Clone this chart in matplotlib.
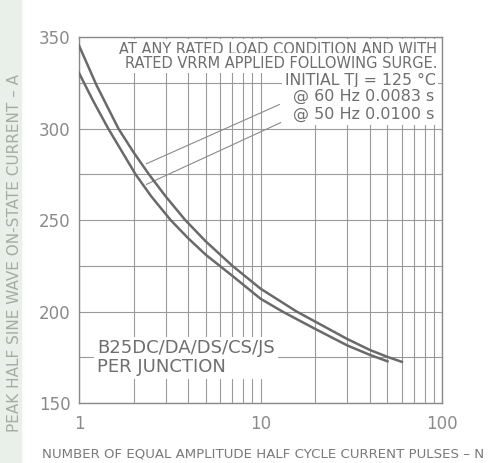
import matplotlib
matplotlib.use("Agg")
import matplotlib.pyplot as plt
from matplotlib.ticker import FixedLocator, NullFormatter
from matplotlib.patches import Rectangle

plt.rcParams['font.family'] = ['DejaVu Sans']

# curve data (number of pulses vs peak current)
pulses_60hz = [1, 1.25, 1.65, 2, 2.43, 3, 3.85, 5, 7, 10, 15.8, 20, 30, 40, 50, 60]
current_60hz = [345.5, 323.7, 300, 287, 275, 263, 250, 238.3, 225, 212.5, 200, 194.5, 185, 179, 175.2, 172.5]

pulses_50hz = [1, 1.2, 1.45, 2.05, 2.5, 3.2, 4, 5, 7, 10, 13.2, 20, 30, 40, 50]
current_50hz = [330.5, 315, 300, 275, 263, 250, 240, 231, 219.5, 207, 200, 190.5, 181.5, 176.3, 172.8]

y_ticks = [150, 200, 250, 300, 350]
y_minor = [175, 225, 275, 325]
x_ticks = [1, 10, 100]
x_tick_labels = ['1', '10', '100']
x_minor = [2, 3, 4, 5, 6, 7, 8, 9, 20, 30, 40, 50, 60, 70, 80, 90]

# leader lines: (curve point, text point)
leader_60 = ((2.35, 280.8), (12.7, 313.2))
leader_50 = ((2.35, 269.5), (12.9, 303.3))

grid_col = '#9a9a9a'
curve_col = '#6a6a6a'
text_col = '#6e6e6e'

fig = plt.figure(figsize=(5.03, 4.63), dpi=100)
fig.patches.append(Rectangle((0, 0), 0.042, 1, transform=fig.transFigure,
                             color='#e9f0e9', zorder=0))
ax = fig.add_axes([0.157, 0.1296, 0.722, 0.790])

ax.set_xscale('log')
ax.set_xlim(1, 100)
ax.set_ylim(150, 350)

ax.xaxis.set_major_locator(FixedLocator(x_ticks))
ax.xaxis.set_minor_locator(FixedLocator(x_minor))
ax.xaxis.set_minor_formatter(NullFormatter())
ax.set_xticks(x_ticks, x_tick_labels)
ax.yaxis.set_major_locator(FixedLocator(y_ticks))
ax.yaxis.set_minor_locator(FixedLocator(y_minor))

ax.tick_params(which='both', length=0)
ax.tick_params(axis='x', pad=9, labelsize=12, labelcolor='#8a8a8a')
ax.tick_params(axis='y', pad=6, labelsize=12, labelcolor='#8a8a8a')

ax.grid(which='both', color=grid_col, linewidth=0.8)
ax.set_axisbelow(True)
for sp in ax.spines.values():
    sp.set_color('#8a8a8a')
    sp.set_linewidth(1)

ax.plot(pulses_60hz, current_60hz, color=curve_col, lw=1.8, zorder=4)
ax.plot(pulses_50hz, current_50hz, color=curve_col, lw=1.8, zorder=4)

# leader lines to the curves
for (p0, p1) in [leader_60, leader_50]:
    ax.plot([p0[0], p1[0]], [p0[1], p1[1]], color='#8a8a8a', lw=0.8, zorder=2)

box = dict(facecolor='white', edgecolor='none', pad=2)

ax.text(0.986, 0.967, 'AT ANY RATED LOAD CONDITION AND WITH', transform=ax.transAxes,
        ha='right', va='center', fontsize=10.5, color=text_col, bbox=box, zorder=3)
ax.text(0.986, 0.929, 'RATED VRRM APPLIED FOLLOWING SURGE.', transform=ax.transAxes,
        ha='right', va='center', fontsize=10.5, color=text_col, bbox=box, zorder=3)
ax.text(0.982, 0.883, 'INITIAL TJ = 125 °C', transform=ax.transAxes,
        ha='right', va='center', fontsize=11.3, color=text_col, bbox=box, zorder=3)
ax.text(0.978, 0.837, '@ 60 Hz 0.0083 s', transform=ax.transAxes,
        ha='right', va='center', fontsize=11.5, color=text_col, bbox=box, zorder=3)
ax.text(0.978, 0.788, '@ 50 Hz 0.0100 s', transform=ax.transAxes,
        ha='right', va='center', fontsize=11.5, color=text_col, bbox=box, zorder=3)

ax.text(0.05, 0.124, 'B25DC/DA/DS/CS/JS\nPER JUNCTION', transform=ax.transAxes,
        ha='left', va='center', fontsize=13, color=text_col, linespacing=1.05,
        bbox=box, zorder=3)

fig.text(0.084, 1 - 454 / 463, 'NUMBER OF EQUAL AMPLITUDE HALF CYCLE CURRENT PULSES – N',
         ha='left', va='center', fontsize=9.6, color='#7a7a7a')
fig.text(0.028, 1 - 432 / 463, 'PEAK HALF SINE WAVE ON-STATE CURRENT – A',
         rotation=90, ha='center', va='bottom', fontsize=11, color='#a3ada3')

fig.savefig('out.png', dpi=100)
